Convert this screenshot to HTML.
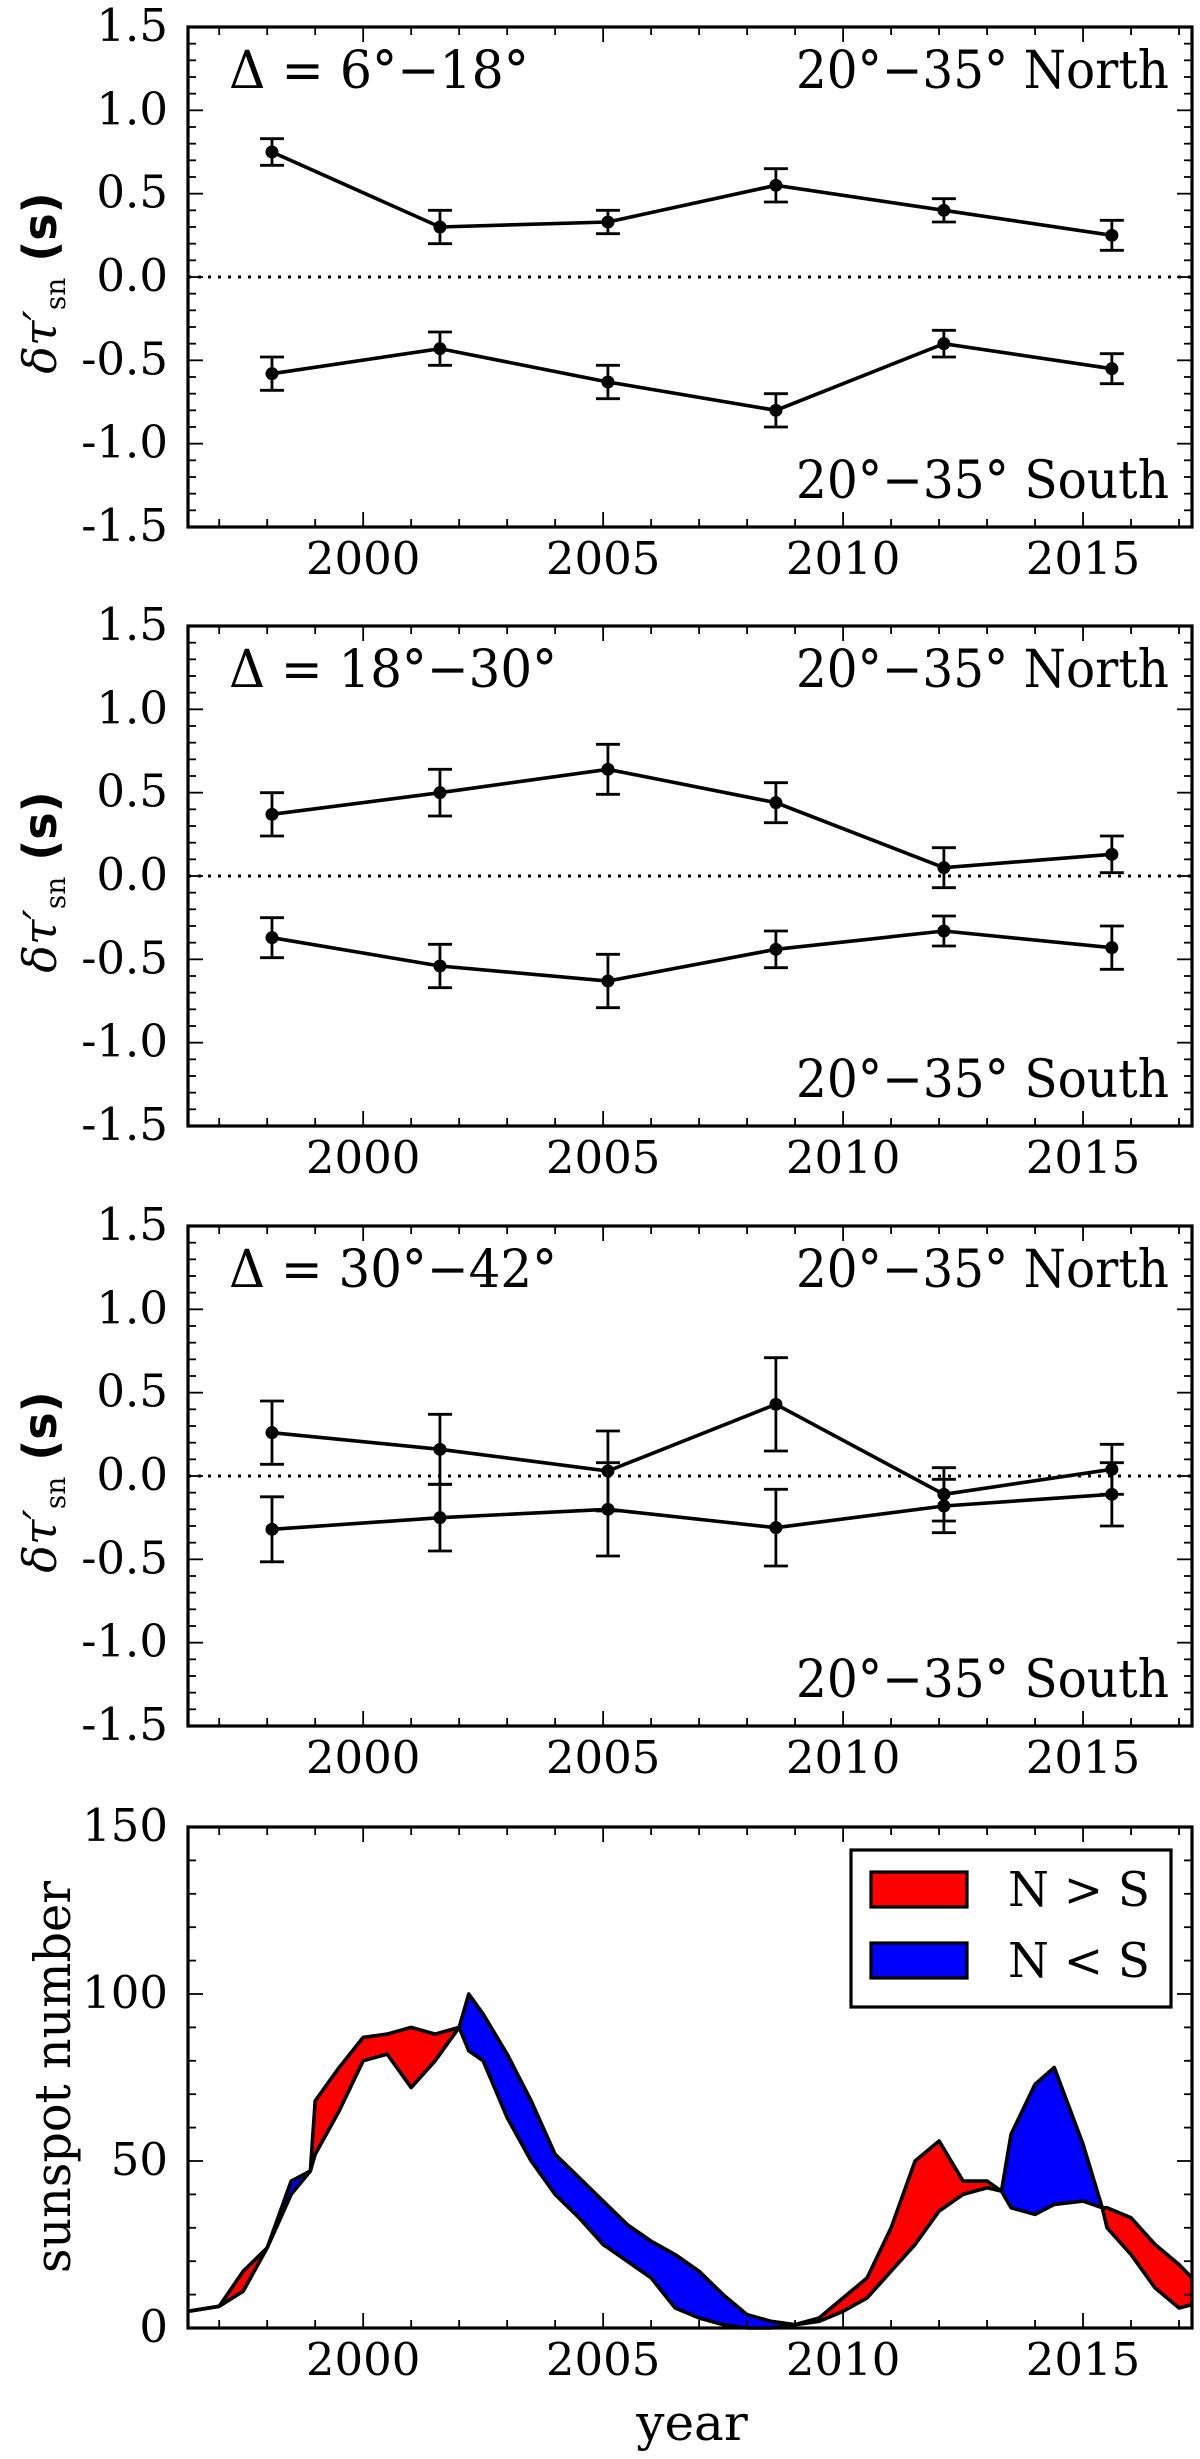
<!DOCTYPE html>
<html><head><meta charset="utf-8"><style>
html,body{margin:0;padding:0;background:#fff}
svg text{font-family:"DejaVu Serif","Liberation Serif",serif;fill:#000}
</style></head><body>
<svg id="fig" xmlns="http://www.w3.org/2000/svg" width="1200" height="2454" viewBox="0 0 1200 2454"></svg>
<script>
// ---- data ----
const obsYears = [1998.1, 2001.6, 2005.1, 2008.6, 2012.1, 2015.6];
const p1North = [0.75, 0.30, 0.33, 0.55, 0.40, 0.25];
const p1NorthErr = [0.08, 0.10, 0.07, 0.10, 0.07, 0.09];
const p1South = [-0.58, -0.43, -0.63, -0.80, -0.40, -0.55];
const p1SouthErr = [0.10, 0.10, 0.10, 0.10, 0.08, 0.09];
const p2North = [0.37, 0.50, 0.64, 0.44, 0.05, 0.13];
const p2NorthErr = [0.13, 0.14, 0.15, 0.12, 0.12, 0.11];
const p2South = [-0.37, -0.54, -0.63, -0.44, -0.33, -0.43];
const p2SouthErr = [0.12, 0.13, 0.16, 0.11, 0.09, 0.13];
const p3North = [0.26, 0.16, 0.03, 0.43, -0.11, 0.04];
const p3NorthErr = [0.19, 0.21, 0.24, 0.28, 0.16, 0.15];
const p3South = [-0.32, -0.25, -0.20, -0.31, -0.18, -0.11];
const p3SouthErr = [0.195, 0.20, 0.28, 0.23, 0.16, 0.19];
const panelLabels = ["Δ = 6°−18°", "Δ = 18°−30°", "Δ = 30°−42°"];
const yTickLabels = ["1.5","1.0","0.5","0.0","-0.5","-1.0","-1.5"];
const xTickLabels = ["2000","2005","2010","2015"];
const ssYears = [1996.35,1997,1997.5,1998,1998.5,1998.9,1999,1999.5,2000,2000.5,2001,2001.5,2002,2002.2,2002.5,2003,2003.5,2004,2004.5,2005,2005.5,2006,2006.5,2007,2007.5,2008,2008.5,2009,2009.5,2010,2010.5,2011,2011.5,2012,2012.5,2013,2013.3,2013.5,2014,2014.4,2015,2015.4,2015.5,2016,2016.5,2017,2017.27];
const ssNorth = [5,6.5,17,24,40,47,68,78,87,88,90,88,90,83,80,63,50,40,33,25,20,15,6,3,1,0,0,1,3,9,15,30,50,56,44,44,41,36,34,37,38,36,36,33,25,19,15];
const ssSouth = [5,6.5,11,24,44,47,52,65,80,82,72,80,90,100,94,82,68,52,45,38,31,26,22,17,10,4,2,1,2,5,9,17,25,35,40,42,41,58,73,78,55,36,30,22,12,6,7];
const ssTickLabels = ["0","50","100","150"];

const NS = "http://www.w3.org/2000/svg";
const svg = document.getElementById("fig");
function mk(tag, attrs, parent, txt){
  const e = document.createElementNS(NS, tag);
  for (const k in attrs) e.setAttribute(k, attrs[k]);
  if (txt !== undefined) e.textContent = txt;
  (parent || svg).appendChild(e);
  return e;
}
const L = 188, R = 1192;
const X0 = 1996.35, X1 = 2017.27;
const TF = 45;
function xs(yr){ return L + (yr - X0) / (X1 - X0) * (R - L); }

function drawXTicks(g, top, bot){
  for (let y = 1997; y <= 2017; y++){
    const major = y % 5 === 0;
    const len = major ? 15 : 8;
    const x = xs(y);
    const t1 = mk("line",{x1:x,y1:bot,x2:x,y2:bot-len,stroke:"#000","stroke-width":1.8},g);
    
    
    mk("line",{x1:x,y1:top,x2:x,y2:top+len,stroke:"#000","stroke-width":1.8},g);
  }
  xTickLabels.forEach(lbl => {
    const t = mk("text",{x:xs(+lbl),y:bot+47,"font-size":TF,"text-anchor":"middle"},g,lbl);
    
    
  });
}

function errPanel(idx, top, north, nErr, south, sErr){
  const bot = top + 500;
  const g = mk("g",{});
  
  
  const ys = v => top + (1.5 - v) / 3 * (bot - top);
  for (let k = -15; k <= 15; k++){
    const v = k / 10;
    const major = k % 5 === 0;
    const len = major ? 15 : 8;
    mk("line",{x1:L,y1:ys(v),x2:L+len,y2:ys(v),stroke:"#000","stroke-width":1.8},g);
    mk("line",{x1:R,y1:ys(v),x2:R-len,y2:ys(v),stroke:"#000","stroke-width":1.8},g);
  }
  yTickLabels.forEach(lbl => {
    const t = mk("text",{x:168,y:ys(parseFloat(lbl))+14,"font-size":TF,"text-anchor":"end"},g,lbl);
    
    
  });
  drawXTicks(g, top, bot);
  const z = mk("line",{x1:L,y1:ys(0),x2:R,y2:ys(0),stroke:"#000","stroke-width":3,"stroke-dasharray":"3 7"},g);
  
  
  [[north,nErr,"north-series"],[south,sErr,"south-series"]].forEach(([vals,errs,nm]) => {
    const sg = mk("g",{},g);
    
    
    const pts = vals.map((v,i) => xs(obsYears[i]) + "," + ys(v)).join(" ");
    mk("polyline",{points:pts,fill:"none",stroke:"#000","stroke-width":3.6},sg);
    vals.forEach((v,i) => {
      const x = xs(obsYears[i]);
      const eb = mk("path",{d:`M${x},${ys(v+errs[i])}V${ys(v-errs[i])}M${x-12},${ys(v+errs[i])}h24M${x-12},${ys(v-errs[i])}h24`,stroke:"#000","stroke-width":2.8,fill:"none"},sg);
      
      
      const c = mk("circle",{cx:x,cy:ys(v),r:6.5,fill:"#000"},sg);
      
      
    });
  });
  const f = mk("rect",{x:L,y:top,width:R-L,height:bot-top,fill:"none",stroke:"#000","stroke-width":3.2},g);
  
  
  const a1 = mk("text",{x:229,y:top+61,"font-size":52,textLength:[300,328,328][idx],lengthAdjust:"spacingAndGlyphs"},g,panelLabels[idx]);
  
  
  const a2 = mk("text",{x:796,y:top+61,"font-size":52,textLength:373,lengthAdjust:"spacingAndGlyphs"},g,"20°−35° North");
  
  
  const a3 = mk("text",{x:796,y:top+471,"font-size":52,textLength:373,lengthAdjust:"spacingAndGlyphs"},g,"20°−35° South");
  
  
  const cy = top + 256;
  const yl = mk("text",{x:0,y:0,transform:`translate(56,${cy}) rotate(-90)`,"text-anchor":"middle","font-size":46},g);
  
  
  mk("tspan",{"font-style":"italic"},yl,"δτ′");
  mk("tspan",{"font-size":28,dy:9},yl,"sn");
  mk("tspan",{dy:-9,"font-family":"DejaVu Sans, sans-serif","font-weight":"bold"},yl,"  (s)");
}

errPanel(0, 27, p1North, p1NorthErr, p1South, p1SouthErr);
errPanel(1, 626, p2North, p2NorthErr, p2South, p2SouthErr);
errPanel(2, 1226, p3North, p3NorthErr, p3South, p3SouthErr);

(function(){
  const top = 1827, bot = 2328;
  const g = mk("g",{});
  
  
  const ys = v => bot - v / 150 * (bot - top);
  for (let i = 0; i < ssYears.length - 1; i++){
    const x0 = ssYears[i], x1 = ssYears[i+1];
    const n0 = ssNorth[i], n1 = ssNorth[i+1], s0 = ssSouth[i], s1 = ssSouth[i+1];
    const d0 = n0 - s0, d1 = n1 - s1;
    const segs = [];
    if (d0 * d1 < 0){
      const t = d0 / (d0 - d1);
      const xm = x0 + t * (x1 - x0), vm = n0 + t * (n1 - n0);
      segs.push([x0, n0, s0, xm, vm, vm, d0]);
      segs.push([xm, vm, vm, x1, n1, s1, d1]);
    } else segs.push([x0, n0, s0, x1, n1, s1, d0 + d1]);
    segs.forEach(([a, na, sa, b, nb, sb, d]) => {
      const p = mk("polygon",{points:`${xs(a)},${ys(na)} ${xs(b)},${ys(nb)} ${xs(b)},${ys(sb)} ${xs(a)},${ys(sa)}`,fill:d >= 0 ? "#ff0000" : "#0000ff",stroke:d >= 0 ? "#ff0000" : "#0000ff","stroke-width":0.6},g);
      
      
    });
  }
  [[ssNorth,"north-sunspot-line"],[ssSouth,"south-sunspot-line"]].forEach(([arr,nm]) => {
    const pl = mk("polyline",{points:arr.map((v,i)=>xs(ssYears[i])+","+ys(v)).join(" "),fill:"none",stroke:"#000","stroke-width":3.6,"stroke-linejoin":"round"},g);
    
    
  });
  for (let v = 0; v <= 150; v += 10){
    const len = v % 50 === 0 ? 15 : 8;
    mk("line",{x1:L,y1:ys(v),x2:L+len,y2:ys(v),stroke:"#000","stroke-width":1.8},g);
    mk("line",{x1:R,y1:ys(v),x2:R-len,y2:ys(v),stroke:"#000","stroke-width":1.8},g);
  }
  ssTickLabels.forEach(lbl => {
    const t = mk("text",{x:168,y:ys(+lbl)+14,"font-size":TF,"text-anchor":"end"},g,lbl);
    
    
  });
  drawXTicks(g, top, bot);
  const f = mk("rect",{x:L,y:top,width:R-L,height:bot-top,fill:"none",stroke:"#000","stroke-width":3.2},g);
  
  
  const lg = mk("g",{},g);
  
  
  mk("rect",{x:851,y:1850,width:320,height:157,fill:"#fff",stroke:"#000","stroke-width":3.2},lg);
  const e1 = mk("rect",{x:871,y:1872,width:96,height:35,fill:"#ff0000",stroke:"#000","stroke-width":3.2},lg);
  
  
  mk("text",{x:1008,y:1906,"font-size":48,textLength:142,lengthAdjust:"spacingAndGlyphs"},lg,"N > S");
  const e2 = mk("rect",{x:871,y:1943,width:96,height:35,fill:"#0000ff",stroke:"#000","stroke-width":3.2},lg);
  
  
  mk("text",{x:1008,y:1977,"font-size":48,textLength:142,lengthAdjust:"spacingAndGlyphs"},lg,"N < S");
  const xl = mk("text",{x:692,y:2440,"font-size":50,"text-anchor":"middle"},g,"year");
  
  
  const yl = mk("text",{x:0,y:0,transform:"translate(70,2077) rotate(-90)","text-anchor":"middle","font-size":50,textLength:392,lengthAdjust:"spacingAndGlyphs"},g,"sunspot number");
  
  
})();
</script>
</body></html>
